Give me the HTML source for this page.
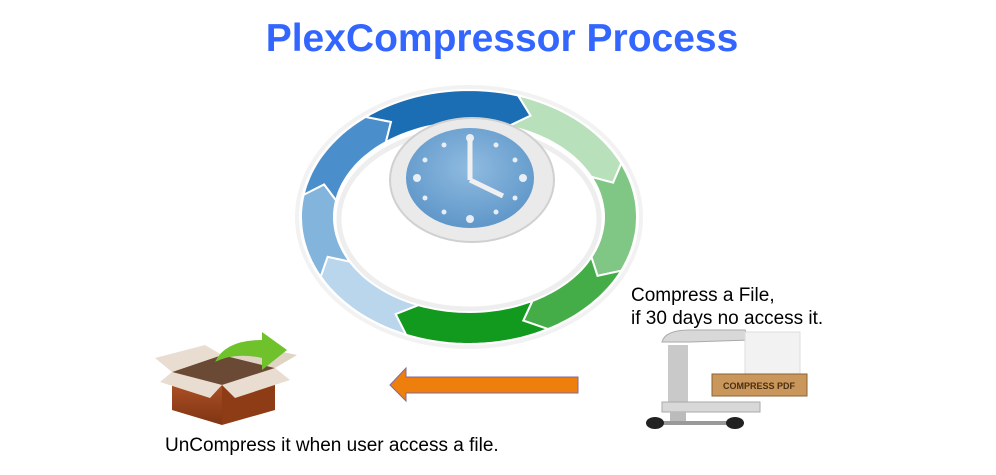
<!DOCTYPE html>
<html><head><meta charset="utf-8"><style>
html,body{margin:0;padding:0;background:#fff;width:996px;height:475px;overflow:hidden}
svg{display:block}
text{font-family:"Liberation Sans",Arial,sans-serif}
</style></head><body>
<svg id="s" width="996" height="475" viewBox="0 0 996 475" xmlns="http://www.w3.org/2000/svg">
<defs>
<radialGradient id="cf" cx="50%" cy="40%" r="60%"><stop offset="0" stop-color="#8fbbe0"/><stop offset="1" stop-color="#5f97c9"/></radialGradient>
<linearGradient id="bx" x1="0" y1="0" x2="0" y2="1"><stop offset="0" stop-color="#b9582a"/><stop offset="1" stop-color="#7e3413"/></linearGradient>
</defs>
<text x="502" y="51" text-anchor="middle" font-size="39" font-weight="bold" fill="#3366ff">PlexCompressor Process</text>
<ellipse cx="469" cy="217" rx="172" ry="130" fill="none" stroke="#f2f2f2" stroke-width="4"/>
<ellipse cx="469" cy="219" rx="130" ry="90" fill="none" stroke="#eeeeee" stroke-width="5"/>
<g id="ring"></g>
<ellipse cx="472" cy="180" rx="82" ry="62" fill="#eaeaea" stroke="#d0d0d0" stroke-width="2"/>
<ellipse cx="470" cy="178" rx="64" ry="50" fill="url(#cf)"/>
<g fill="#e8eef5">
<circle cx="470" cy="138" r="4"/><circle cx="470" cy="219" r="4"/><circle cx="417" cy="178" r="4"/><circle cx="523" cy="178" r="4"/>
<circle cx="444" cy="145" r="2.5"/><circle cx="496" cy="145" r="2.5"/><circle cx="425" cy="160" r="2.5"/><circle cx="515" cy="160" r="2.5"/>
<circle cx="425" cy="198" r="2.5"/><circle cx="515" cy="198" r="2.5"/><circle cx="444" cy="212" r="2.5"/><circle cx="496" cy="212" r="2.5"/>
</g>
<line x1="470" y1="180" x2="470" y2="138" stroke="#f0f0f0" stroke-width="5"/>
<line x1="470" y1="180" x2="503" y2="196" stroke="#f0f0f0" stroke-width="5"/>
<text x="631" y="301" font-size="19" fill="#000">Compress a File,</text>
<text x="631" y="324" font-size="19" fill="#000">if 30 days no access it.</text>
<text x="165" y="451" font-size="19" fill="#000">UnCompress it when user access a file.</text>
<polygon points="390,385 406,368 406,377 578,377 578,393 406,393 406,401" fill="#ef7f0c" stroke="#7f6a9a" stroke-width="1"/>
<!-- box -->
<polygon points="172,372 222,385 222,425 172,410" fill="url(#bx)"/>
<polygon points="222,385 275,368 275,410 222,425" fill="#8e3c16"/>
<polygon points="172,372 222,355 275,368 222,385" fill="#6b4a35"/>
<polygon points="172,372 155,358 205,345 222,355" fill="#e8ddd0"/>
<polygon points="275,368 297,355 250,345 222,355" fill="#e0d4c5"/>
<polygon points="172,372 222,385 210,398 160,382" fill="#e8ddd0"/>
<polygon points="222,385 275,368 290,380 235,398" fill="#e8ddd0"/>
<path d="M215,362 Q225,340 262,340 L262,332 L287,350 L262,370 L262,358 Q235,352 215,362Z" fill="#6fc22b"/>
<!-- clamp -->
<rect x="668" y="345" width="20" height="60" fill="#c9c9c9"/>
<path d="M662,342 Q665,330 690,330 L745,330 L750,340 L690,342 Z" fill="#d8d8d8" stroke="#aaa"/>
<path d="M662,402 L760,402 L760,412 L662,412 Z" fill="#d8d8d8" stroke="#aaa"/>
<rect x="745" y="332" width="55" height="42" fill="#f2f2f2" stroke="#ddd"/>
<rect x="712" y="374" width="95" height="22" fill="#c9975c" stroke="#8a6335"/>
<text x="759" y="389" text-anchor="middle" font-size="9" font-weight="bold" font-family="Liberation Serif,serif" fill="#4a2f12">COMPRESS PDF</text>
<rect x="670" y="412" width="16" height="10" fill="#bbb"/>
<line x1="655" y1="423" x2="735" y2="423" stroke="#999" stroke-width="4"/>
<ellipse cx="655" cy="423" rx="9" ry="6" fill="#222"/><ellipse cx="735" cy="423" rx="9" ry="6" fill="#222"/>
</svg>
<script>
(function(){
var cx=469,cy=217,rxo=168,ryo=127,rxi=135,ryi=95;
var segs=[[190,232,"#4a8fcb"],[232,287,"#1c6eb4"],[287,335,"#b8e0bb"],[335,25,"#80c684"],[25,62,"#44ad48"],[62,112,"#129a1f"],[112,152,"#b9d6ec"],[152,190,"#82b4dc"]];
function p(rx,ry,a){a=a*Math.PI/180;return [cx+rx*Math.cos(a),cy+ry*Math.sin(a)];}
var g=document.getElementById("ring"),h="";
segs.forEach(function(s){
 var a0=s[0],a1=s[1];if(a1<a0)a1+=360;
 var pts=[],n=20,i,a;
 for(i=0;i<=n;i++){a=a0+(a1-a0)*i/n;pts.push(p(rxo,ryo,a));}
 var tip=p((rxo+rxi)/2,(ryo+ryi)/2,a1+7);pts.push(tip);
 for(i=n;i>=0;i--){a=a0+(a1-a0)*i/n;pts.push(p(rxi,ryi,a));}
 pts.push(p((rxo+rxi)/2,(ryo+ryi)/2,a0+7));
 h+='<polygon points="'+pts.map(function(q){return q[0].toFixed(1)+","+q[1].toFixed(1)}).join(" ")+'" fill="'+s[2]+'" stroke="#fff" stroke-width="2"/>';
});
g.innerHTML=h;
})();
</script>
</body></html>
